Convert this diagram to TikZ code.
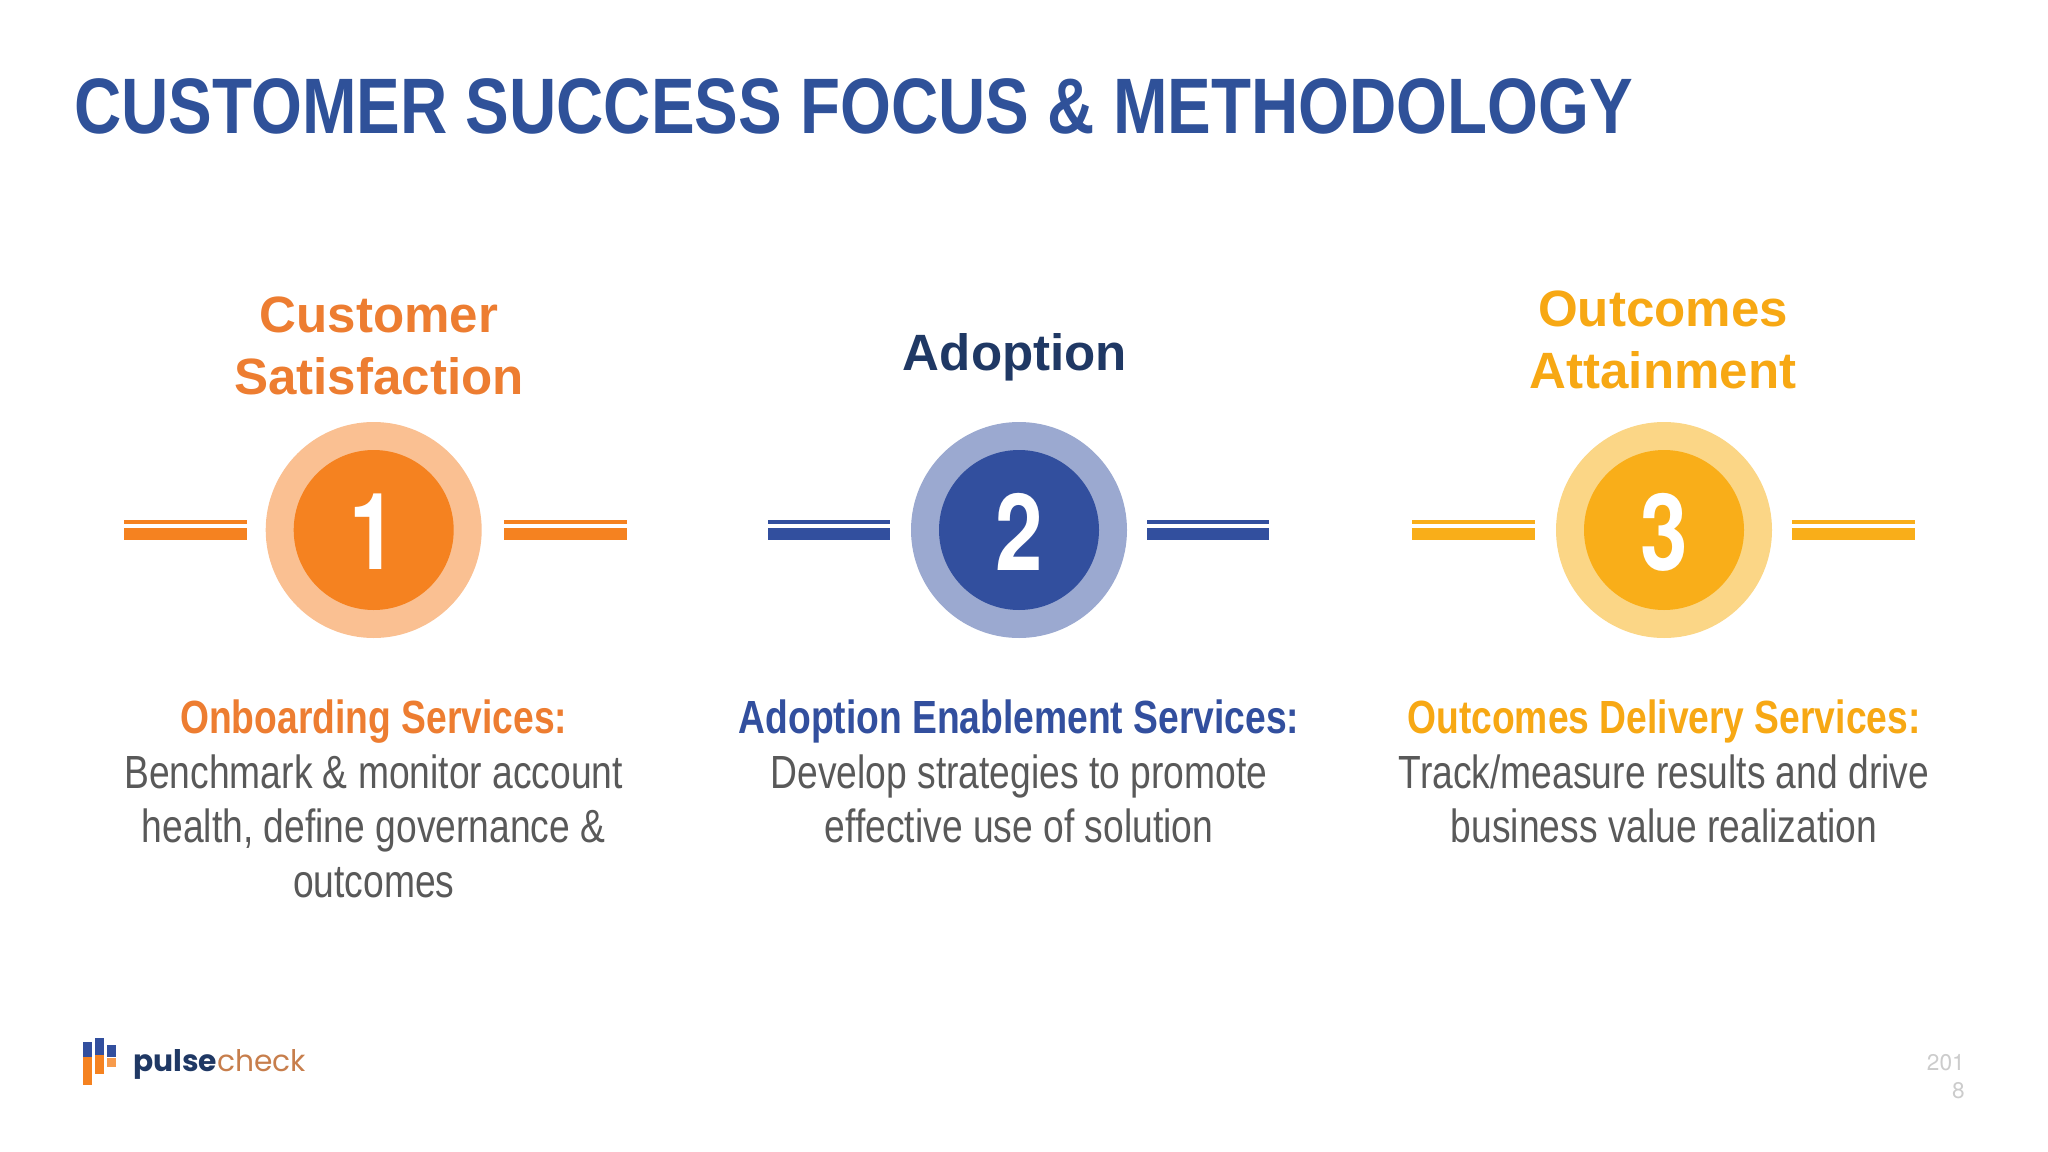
\documentclass[tikz,border=0pt]{standalone}
\usepackage{fontspec}
\setmainfont{Liberation Sans}
\newfontfamily\narrowfont[FakeStretch=0.8]{Liberation Sans}
\newfontfamily\titlefont[FakeStretch=0.832]{Liberation Sans}
\newfontfamily\digitfont[FakeStretch=0.8]{TeX Gyre Heros}
\newfontfamily\pagefont{TeX Gyre Heros}
\newfontfamily\logofont{Poppins}
\definecolor{titleblue}{RGB}{47,81,153}
\definecolor{navy}{RGB}{31,56,100}
\definecolor{orangeHead}{RGB}{237,125,49}
\definecolor{orangeMain}{RGB}{245,130,32}
\definecolor{orangeLight}{RGB}{250,192,146}
\definecolor{blueMain}{RGB}{50,79,158}
\definecolor{blueLight}{RGB}{155,169,208}
\definecolor{yellowHead}{RGB}{247,168,20}
\definecolor{yellowMain}{RGB}{249,174,25}
\definecolor{yellowLight}{RGB}{251,214,134}
\definecolor{bodygrey}{RGB}{89,89,89}
\tikzset{
  headtext/.style={anchor=north,inner sep=0.75pt,align=center,font=\fontsize{38.3}{46}\selectfont\bfseries},
  bodytext/.style={anchor=north,inner sep=0.75pt,align=center,text=bodygrey,font=\fontsize{34.9}{41}\selectfont\narrowfont},
  numtext/.style={inner sep=0pt,text=white,font=\fontsize{80}{80}\selectfont\digitfont\bfseries},
  ring/.style={circle,inner sep=0pt,minimum size=216*0.75pt},
  disc/.style={circle,inner sep=0pt,minimum size=160*0.75pt},
}
\begin{document}
\begin{tikzpicture}[x=0.75pt,y=0.75pt,yscale=-1,xscale=1]
\useasboundingbox (0,0) rectangle (2048,1152);

% Title
\node (title) at (74,134) [anchor=base west,inner sep=0pt,text=titleblue,font=\fontsize{59}{59}\selectfont\titlefont\bfseries] {CUSTOMER SUCCESS FOCUS \& METHODOLOGY};

% Circle 1
\node (ringA) at (373.7,530) [ring,fill=orangeLight] {};
\node (discA) at (373.7,530) [disc,fill=orangeMain] {};
\node (numA) at (373.7,532) [numtext] {1};
\fill [orangeMain] (124,519.6) rectangle (247,523.8);
\fill [orangeMain] (124,527.6) rectangle (247,539.7);
\fill [orangeMain] (504,519.6) rectangle (627,523.8);
\fill [orangeMain] (504,527.6) rectangle (627,539.7);

% Circle 2
\node (ringB) at (1019,530) [ring,fill=blueLight] {};
\node (discB) at (1019,530) [disc,fill=blueMain] {};
\node (numB) at (1019,532) [numtext] {2};
\fill [blueMain] (768,519.6) rectangle (890,523.8);
\fill [blueMain] (768,527.6) rectangle (890,539.7);
\fill [blueMain] (1147,519.6) rectangle (1269,523.8);
\fill [blueMain] (1147,527.6) rectangle (1269,539.7);

% Circle 3
\node (ringC) at (1664,530) [ring,fill=yellowLight] {};
\node (discC) at (1664,530) [disc,fill=yellowMain] {};
\node (numC) at (1664,532) [numtext] {3};
\fill [yellowMain] (1412,519.6) rectangle (1535,523.8);
\fill [yellowMain] (1412,527.6) rectangle (1535,539.7);
\fill [yellowMain] (1792,519.6) rectangle (1915,523.8);
\fill [yellowMain] (1792,527.6) rectangle (1915,539.7);

% Headings
\node (headA) at (379,296) [headtext,text=orangeHead] {Customer\\Satisfaction};
\node (headB) at (1015,332) [headtext,text=navy] {Adoption};
\node (headC) at (1663,290) [headtext,text=yellowHead] {Outcomes\\Attainment};

% Body text
\node (bodyA) at (373.7,698.5) [bodytext] {\textcolor{orangeHead}{\bfseries Onboarding Services:}\\Benchmark \& monitor account\\health, define governance \&\\outcomes};
\node (bodyB) at (1019,698.5) [bodytext] {\textcolor{blueMain}{\bfseries Adoption Enablement Services:}\\Develop strategies to promote\\effective use of solution};
\node (bodyC) at (1664,698.5) [bodytext] {\textcolor{yellowHead}{\bfseries Outcomes Delivery Services:}\\Track/measure results and drive\\business value realization};

% Logo
\fill [blueMain] (83,1042) rectangle (92,1057);
\fill [orangeMain] (83,1057) rectangle (92,1085);
\fill [blueMain] (95,1038) rectangle (104,1055);
\fill [orangeMain] (95,1055) rectangle (104,1074);
\fill [blueMain] (107,1045) rectangle (116,1057);
\fill [orangeMain!80!white] (107,1058) rectangle (116,1067);
\node (logo) at (133,1071) [anchor=base west,inner sep=0pt,font=\fontsize{22.3}{22.3}\selectfont\logofont] {\textcolor{navy}{\bfseries pulse}\textcolor{orangeHead!65!gray}{check}};

% Page number
\node (page) at (1965,1098) [anchor=base east,inner sep=0pt,align=right,text=black!20,font=\fontsize{17}{20.5}\selectfont\pagefont] {201\\8};
\end{tikzpicture}
\end{document}
